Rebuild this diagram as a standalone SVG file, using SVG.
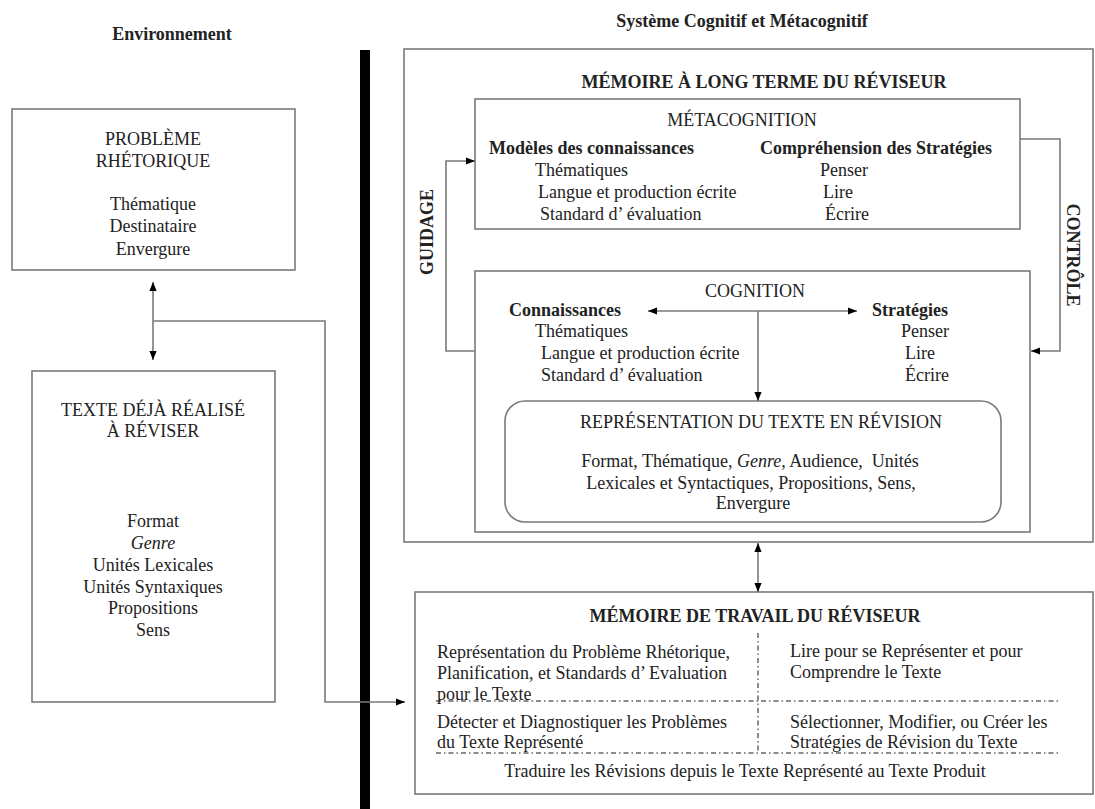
<svg xmlns="http://www.w3.org/2000/svg" width="1095" height="809" viewBox="0 0 1095 809">
<style>
.box{fill:none;stroke:#7a7a7a;stroke-width:1.6}
.t{font-family:"Liberation Serif","Times New Roman",serif;font-size:18px;fill:#222}
.b{font-weight:bold}
.c{text-anchor:middle}
.i{font-style:italic}
.conn{fill:none;stroke:#7a7a7a;stroke-width:1.6}
.dd{fill:none;stroke:#666;stroke-width:1.5;stroke-dasharray:5 3 1.5 3}
</style>
<defs>
<marker id="ah" viewBox="0 0 10 8" refX="10" refY="4" markerWidth="9" markerHeight="7.2" markerUnits="userSpaceOnUse" orient="auto-start-reverse">
<path d="M0,0 L10,4 L0,8 z" fill="#000"/>
</marker>
</defs>
<rect width="1095" height="809" fill="#fff"/>

<g id="headers">
<text class="t b c" x="172" y="40" font-size="23">Environnement</text>
<text class="t b c" x="742" y="27" font-size="23">Système Cognitif et Métacognitif</text>
</g>

<g id="separator">
<rect x="360" y="50" width="10" height="759" fill="#000"/>
</g>

<g id="probleme">
<rect class="box" x="12" y="109" width="283" height="161"/>
<text class="t c" x="153" y="145">PROBLÈME</text>
<text class="t c" x="153" y="167">RHÉTORIQUE</text>
<text class="t c" x="153" y="210">Thématique</text>
<text class="t c" x="153" y="232">Destinataire</text>
<text class="t c" x="153" y="255">Envergure</text>
</g>

<g id="texte">
<rect class="box" x="32" y="371" width="243" height="331"/>
<text class="t c" x="153" y="416">TEXTE DÉJÀ RÉALISÉ</text>
<text class="t c" x="153" y="437">À RÉVISER</text>
<text class="t c" x="153" y="527">Format</text>
<text class="t c i" x="153" y="549">Genre</text>
<text class="t c" x="153" y="571">Unités Lexicales</text>
<text class="t c" x="153" y="593">Unités Syntaxiques</text>
<text class="t c" x="153" y="614">Propositions</text>
<text class="t c" x="153" y="636">Sens</text>
</g>

<g id="ltm">
<rect class="box" x="404" y="49" width="689" height="493"/>
<text class="t b c" x="764" y="88" font-size="23.5">MÉMOIRE À LONG TERME DU RÉVISEUR</text>
</g>

<g id="metacognition">
<rect class="box" x="475" y="99" width="545" height="130"/>
<text class="t c" x="742" y="126">MÉTACOGNITION</text>
<text class="t b" x="489" y="154">Modèles des connaissances</text>
<text class="t b" x="760" y="154">Compréhension des Stratégies</text>
<text class="t" x="535" y="176">Thématiques</text>
<text class="t" x="538" y="198">Langue et production écrite</text>
<text class="t" x="540" y="220">Standard d’ évaluation</text>
<text class="t" x="820" y="176">Penser</text>
<text class="t" x="823" y="198">Lire</text>
<text class="t" x="825" y="220">Écrire</text>
</g>

<g id="cognition">
<rect class="box" x="475" y="271" width="555" height="261"/>
<text class="t c" x="755" y="297">COGNITION</text>
<text class="t b" x="509" y="316">Connaissances</text>
<text class="t b" x="872" y="316">Stratégies</text>
<text class="t" x="535" y="337">Thématiques</text>
<text class="t" x="541" y="359">Langue et production écrite</text>
<text class="t" x="541" y="381">Standard d’ évaluation</text>
<text class="t" x="901" y="337">Penser</text>
<text class="t" x="905" y="359">Lire</text>
<text class="t" x="905" y="381">Écrire</text>
</g>

<g id="representation">
<rect class="box" x="505" y="401" width="496" height="121" rx="20" ry="20"/>
<text class="t c" x="761" y="428" font-size="19.5">REPRÉSENTATION DU TEXTE EN RÉVISION</text>
<text class="t c" x="750" y="467" xml:space="preserve">Format, Thématique, <tspan class="i">Genre</tspan>, Audience,  Unités</text>
<text class="t c" x="751" y="489">Lexicales et Syntactiques, Propositions, Sens,</text>
<text class="t c" x="753" y="509">Envergure</text>
</g>

<g id="travail">
<rect class="box" x="415" y="592" width="678" height="202"/>
<text class="t b c" x="755" y="622" font-size="23">MÉMOIRE DE TRAVAIL DU RÉVISEUR</text>
<line class="dd" x1="758" y1="633" x2="758" y2="752"/>
<line class="dd" x1="436" y1="701" x2="1058" y2="701"/>
<line class="dd" x1="436" y1="753" x2="1058" y2="753"/>
<text class="t" x="437" y="658">Représentation du Problème Rhétorique,</text>
<text class="t" x="437" y="679">Planification, et Standards d’ Evaluation</text>
<text class="t" x="437" y="700">pour le Texte</text>
<text class="t" x="437" y="728">Détecter et Diagnostiquer les Problèmes</text>
<text class="t" x="437" y="748">du Texte Représenté</text>
<text class="t" x="790" y="657">Lire pour se Représenter et pour</text>
<text class="t" x="790" y="678">Comprendre le Texte</text>
<text class="t" x="790" y="728">Sélectionner, Modifier, ou Créer les</text>
<text class="t" x="790" y="748">Stratégies de Révision du Texte</text>
<text class="t c" x="745" y="777">Traduire les Révisions depuis le Texte Représenté au Texte Produit</text>
</g>

<g id="connectors">
<line class="conn" x1="153" y1="282" x2="153" y2="360" marker-start="url(#ah)" marker-end="url(#ah)"/>
<path class="conn" d="M153,321 H325 V702 H405" marker-end="url(#ah)"/>
<path class="conn" d="M475,351 H446 V161 H475" marker-end="url(#ah)"/>
<path class="conn" d="M1020,139 H1060 V351 H1031" marker-end="url(#ah)"/>
<line class="conn" x1="648" y1="311" x2="857" y2="311" marker-start="url(#ah)" marker-end="url(#ah)"/>
<line class="conn" x1="758" y1="311" x2="758" y2="401" marker-end="url(#ah)"/>
<line class="conn" x1="758" y1="543" x2="758" y2="592" marker-start="url(#ah)" marker-end="url(#ah)"/>
<text class="t b c" transform="translate(433,232) rotate(-90)" font-size="15">GUIDAGE</text>
<text class="t b c" transform="translate(1067,255) rotate(90)" font-size="15.5">CONTRÔLE</text>
</g>
</svg>
